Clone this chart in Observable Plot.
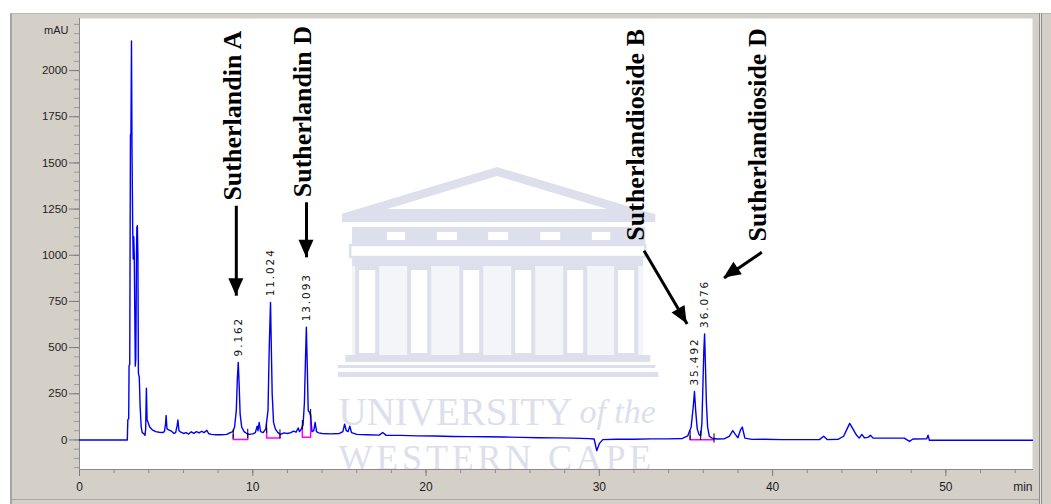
<!DOCTYPE html>
<html>
<head>
<meta charset="utf-8">
<script src="https://cdn.jsdelivr.net/npm/d3@7"></script>
<script src="https://cdn.jsdelivr.net/npm/@observablehq/plot@0.6"></script>
<style>
  html, body { margin: 0; padding: 0; background: #ffffff; }
  #page { position: relative; width: 1051px; height: 504px; overflow: hidden; background: #ffffff; }
  #panel { position: absolute; left: 10px; top: 13px; border-left: 2px solid #a4a4a4; border-top: 1px solid #b8b8b8; background: #d4d0c8; }
  #panel svg { display: block; }
  #rightline { position: absolute; left: 1039px; top: 13px; width: 1px; height: 491px; border-left: 1px solid #8c8c8c; border-right: 1px solid #8c8c8c; background: #e8e6e0; }
  #bottomline { position: absolute; left: 12px; top: 499px; width: 1027px; height: 1px; background: #a8a8a8; }
  g[font-family="DejaVu Sans"] text { letter-spacing: 1.9px; }
  g[font-family="Tinos, 'Liberation Serif', serif"] text { letter-spacing: 3.8px; }
</style>
</head>
<body>
<div id="page">
  <div id="panel"></div>
  <div id="rightline"></div>
  <div id="bottomline"></div>
</div>
<script>
// ---------- Chromatogram trace (retention time in min, absorbance in mAU) ----------
const timeMin = [
  0, 2.76, 2.79, 2.84, 2.86, 2.90, 2.94, 2.97, 3.00, 3.03, 3.07, 3.10, 3.13, 3.16, 3.19, 3.22, 3.25, 3.29, 3.31, 3.34,
  3.37, 3.40, 3.45, 3.50, 3.56, 3.62, 3.70, 3.78, 3.82, 3.86, 3.90, 3.96, 4.05, 4.2, 4.4, 4.6, 4.8, 4.9, 4.97, 5.0,
  5.05, 5.15, 5.3, 5.45, 5.55, 5.64, 5.68, 5.74, 5.85, 6.0, 6.15, 6.3, 6.45, 6.6, 6.75, 6.9, 7.05, 7.2, 7.35, 7.45,
  7.6, 7.9, 8.2, 8.5, 8.7, 8.85, 8.95, 9.05, 9.11, 9.162, 9.21, 9.27, 9.36, 9.5, 9.65, 9.8, 10.0, 10.15, 10.25, 10.3,
  10.37, 10.45, 10.6, 10.75, 10.88, 10.95, 11.024, 11.07, 11.12, 11.2, 11.3, 11.45, 11.6, 11.8, 12.0, 12.2, 12.35, 12.5, 12.62, 12.7,
  12.8, 12.9, 12.98, 13.04, 13.093, 13.14, 13.2, 13.27, 13.33, 13.42, 13.52, 13.6, 13.68, 13.8, 14.0, 14.5, 15.0, 15.2, 15.3, 15.4,
  15.5, 15.6, 15.7, 16.0, 16.6, 17.3, 17.5, 17.7, 18.5, 19.5, 20.5, 21.5, 22.5, 23.5, 24.5, 25.5, 26.5, 27.5, 28.5, 29.4,
  29.7, 29.85, 30.0, 30.2, 31, 32, 33, 34, 34.8, 35.1, 35.3, 35.42, 35.492, 35.56, 35.65, 35.75, 35.85, 35.92, 35.98, 36.03,
  36.076, 36.12, 36.18, 36.25, 36.35, 36.5, 36.8, 37.2, 37.5, 37.7, 37.85, 38.0, 38.15, 38.25, 38.4, 38.8, 39.5, 40.5, 42.7, 42.95,
  43.15, 43.8, 44.1, 44.3, 44.45, 44.6, 44.85, 45.0, 45.15, 45.3, 45.5, 45.65, 45.8, 46.3, 47.6, 47.9, 48.1, 48.9, 48.97, 49.05,
  55
];
const absorbance = [
  0, 0, 110, 115, 400, 410, 1650, 1660, 2160, 1570, 1150, 980, 1100, 1000, 700, 400, 440, 1000, 1150, 1160,
  1000, 360, 340, 180, 70, 40, 35, 25, 60, 280, 110, 95, 70, 55, 45, 42, 40, 45, 90, 132,
  60, 55, 48, 35, 40, 80, 108, 50, 42, 35, 40, 32, 44, 36, 45, 38, 47, 40, 52, 35,
  30, 28, 28, 30, 40, 45, 70, 160, 330, 420, 310, 140, 70, 45, 35, 30, 33, 40, 75, 50,
  95, 45, 40, 60, 160, 500, 745, 500, 250, 95, 60, 40, 30, 38, 35, 40, 48, 42, 65, 45,
  60, 80, 200, 430, 610, 420, 160, 150, 135, 45, 50, 95, 45, 38, 35, 33, 35, 45, 85, 50,
  45, 75, 40, 30, 28, 26, 40, 25, 25, 22, 21, 19, 18, 17, 16, 14, 12, 11, 10, 7,
  5, -58, -20, 2, 4, 4, 6, 6, 8, 22, 70, 180, 262, 160, 60, 30, 22, 90, 300, 480,
  574, 420, 200, 70, 20, 10, 5, 6, 20, 50, 30, 12, 55, 70, 10, 3, 4, 2, 2, 20,
  2, 4, 20, 60, 90, 65, 25, 10, 30, 12, 14, 25, 10, 10, 10, -8, 5, 6, 26, -2,
  -2
];

// ---------- Integrated peaks ----------
const peakTimes = [9.162, 11.024, 13.093, 35.492, 36.076];
const peakHeights = [420, 745, 610, 262, 574];
const peakLabels = ["9.162", "11.024", "13.093", "35.492", "36.076"];

// integration baselines (pink) and start/end markers (black)
const intStart = [8.87, 10.80, 12.86, 35.24];
const intEnd = [9.71, 11.57, 13.34, 36.62];
const intStartTrace = [30, 60, 80, 22];
const intEndTrace = [33, 30, 140, 8];
const intBase = [3, 10, 14, 1];
const markTimes = [8.87, 9.71, 10.80, 11.57, 12.86, 13.34, 35.24, 35.85, 36.62];
const markValues = [30, 33, 60, 30, 80, 140, 22, 22, 8];

// ---------- Compound annotations ----------
const compoundNames = ["Sutherlandin A", "Sutherlandin D", "Sutherlandioside B", "Sutherlandioside D"];
const nameTime = [8.86, 12.86, 32.10, 39.13];
const nameBase = [1296, 1314, 1079, 1075];
const arrowTailTime = [9.05, 13.10, 32.58, 39.38];
const arrowTailValue = [1268, 1287, 1025, 1016];
const arrowTipTime = [9.05, 13.10, 35.07, 37.20];
const arrowTipValue = [781, 989, 628, 877];

// ---------- Axes ----------
const yMajorTicks = [0, 250, 500, 750, 1000, 1250, 1500, 1750, 2000];
const yMinorTicks = d3.range(-150, 2251, 50);
const xMajorTicks = [0, 10, 20, 30, 40, 50];
const xMinorTicks = d3.range(0, 55, 2);
const yUnitLabel = "mAU";
const xUnitLabel = "min";

// ---------- Faint watermark (University of the Western Cape logo), in data units ----------
const wmLine1 = "UNIVERSITY";
const wmLine1b = "of the";
const wmLine2 = "WESTERN CAPE";
const logoTriLeft = [15.13, 17.78, 19.75, 21.25];
const logoTriApex = [24.13, 24.13, 24.13, 24.13];
const logoTriRight = [33.20, 30.48, 28.52, 26.98];
const logoTriBase = [1221, 1248, 1248, 1259];
const logoTriTop = [1475, 1427, 1373, 1340];
const logoTriTone = ["dark", "light", "dark", "light"];
const logoBandX1 = [15.18, 15.76, 15.76, 15.36, 14.95, 14.95];
const logoBandX2 = [33.26, 32.68, 32.56, 32.97, 33.26, 33.43];
const logoBandY1 = [1177, 1058, 939, 419, 387, 338];
const logoBandY2 = [1221, 1150, 982, 457, 403, 366];
const logoMetopeX1 = [17.77, 20.65, 23.61, 26.62, 29.60];
const logoMetopeX2 = [18.82, 21.81, 24.77, 27.77, 30.66];
const logoMetopeY = [1080, 1123];
const logoColumnX1 = [16.05, 19.05, 22.06, 25.06, 28.06, 31.00];
const logoColumnX2 = [17.21, 20.21, 23.21, 26.21, 29.21, 32.16];
const logoColumnY = [457, 928];
const logoArchitrave = {x1: 15.65, x2: 32.68, y1: 988, y2: 1053};
const logoColor = "#dde0ec";
const logoLight = "#f4f5f9";

// ---------- Build tables ----------
const trace = timeMin.map((t, i) => ({t, v: absorbance[i]}));
const peaks = peakTimes.map((t, i) => ({t, v: peakHeights[i], label: peakLabels[i]}));
const pink = intStart.flatMap((s, i) => [
  {g: i, t: s, v: intStartTrace[i]},
  {g: i, t: s, v: intBase[i]},
  {g: i, t: intEnd[i], v: intBase[i]},
  {g: i, t: intEnd[i], v: intEndTrace[i]}
]);
const marks = markTimes.map((t, i) => ({t, v: markValues[i]}));
const names = compoundNames.map((n, i) => ({n, t: nameTime[i], v: nameBase[i]}));
const arrows = compoundNames.map((n, i) => ({
  t1: arrowTailTime[i], v1: arrowTailValue[i], t2: arrowTipTime[i], v2: arrowTipValue[i]
}));
const tris = logoTriLeft.flatMap((l, i) => [
  {k: i, tone: logoTriTone[i], t: l, lo: logoTriBase[i], hi: logoTriBase[i]},
  {k: i, tone: logoTriTone[i], t: logoTriApex[i], lo: logoTriBase[i], hi: logoTriTop[i]},
  {k: i, tone: logoTriTone[i], t: logoTriRight[i], lo: logoTriBase[i], hi: logoTriBase[i]}
]);
const bands = logoBandX1.map((x1, i) => ({x1, x2: logoBandX2[i], y1: logoBandY1[i], y2: logoBandY2[i]}));
const metopes = logoMetopeX1.map((x1, i) => ({x1, x2: logoMetopeX2[i], y1: logoMetopeY[0], y2: logoMetopeY[1]}));
const columns = logoColumnX1.map((x1, i) => ({x1, x2: logoColumnX2[i], y1: logoColumnY[0], y2: logoColumnY[1]}));

const chart = Plot.plot({
  width: 1039,
  height: 490,
  marginLeft: 67,
  marginRight: 19,
  marginTop: 4,
  marginBottom: 35,
  x: {domain: [0, 55]},
  y: {domain: [-160, 2282]},
  style: {background: "#d4d0c8", fontFamily: "'Liberation Sans', Arial, sans-serif", fontSize: "11px", color: "#1e1e1e", overflow: "visible"},
  marks: [
    Plot.frame({fill: "white", stroke: "none"}),
    // watermark logo
    Plot.rect([{x1: 15.76, x2: 32.56, y1: 457, y2: 939}], {x1: "x1", x2: "x2", y1: "y1", y2: "y2", fill: logoLight}),
    Plot.areaY(tris.filter(d => d.tone === "dark"), {x: "t", y1: "lo", y2: "hi", z: "k", fill: logoColor}),
    Plot.areaY(tris.filter(d => d.tone === "light"), {x: "t", y1: "lo", y2: "hi", z: "k", fill: "white"}),
    Plot.rect(bands, {x1: "x1", x2: "x2", y1: "y1", y2: "y2", fill: logoColor}),
    Plot.rect(metopes, {x1: "x1", x2: "x2", y1: "y1", y2: "y2", fill: "white"}),
    Plot.rect([logoArchitrave], {x1: "x1", x2: "x2", y1: "y1", y2: "y2", fill: "white", stroke: logoColor, strokeWidth: 2.5}),
    Plot.rect(columns, {x1: "x1", x2: "x2", y1: "y1", y2: "y2", fill: "white", stroke: logoColor, strokeWidth: 4}),
    Plot.text([wmLine1], {x: 14.95, y: 150, text: d => d, textAnchor: "start", lineAnchor: "middle", fontFamily: "'Liberation Serif', serif", fontSize: 39, fill: logoColor}),
    Plot.text([wmLine1b], {x: 28.85, y: 150, text: d => d, textAnchor: "start", lineAnchor: "middle", fontFamily: "'Liberation Serif', serif", fontStyle: "italic", fontSize: 34, fill: logoColor}),
    Plot.text([wmLine2], {x: 14.95, y: -98, text: d => d, textAnchor: "start", lineAnchor: "middle", fontFamily: "Tinos, 'Liberation Serif', serif", fontSize: 36, fill: logoColor, clip: "frame"}),
    // axes
    Plot.axisY({ticks: yMinorTicks, tickSize: 5, fill: "none", stroke: "#9a9a9a", label: null}),
    Plot.axisY({ticks: yMajorTicks, tickFormat: d3.format("d"), tickSize: 10, tickPadding: 2, stroke: "#7c7c7c", fill: "#1e1e1e", fontSize: 11.5, label: null}),
    Plot.axisX({ticks: xMinorTicks, tickSize: 4, fill: "none", stroke: "#8c8c8c", label: null}),
    Plot.axisX({ticks: xMajorTicks, tickFormat: d3.format("d"), tickSize: 7, tickPadding: 6, stroke: "#7c7c7c", fill: "#1e1e1e", fontSize: 12, label: null}),
    Plot.frame({anchor: "left", stroke: "#8a8a8a"}),
    Plot.frame({anchor: "bottom", stroke: "#8a8a8a"}),
    Plot.text([{t: 0, v: 2215, s: yUnitLabel}], {x: "t", y: "v", text: "s", textAnchor: "end", dx: -11, fontSize: 11, fill: "#1e1e1e"}),
    Plot.text([xUnitLabel], {frameAnchor: "bottom-right", text: d => d, textAnchor: "end", dy: 21, fontSize: 12, fill: "#1e1e1e"}),
    // integration
    Plot.line(pink, {x: "t", y: "v", z: "g", stroke: "#ff00ff", strokeWidth: 1.5}),
    // chromatogram
    Plot.line(trace, {x: "t", y: "v", stroke: "#0000f4", strokeWidth: 1.4}),
    Plot.ruleX(marks, {x: "t", y1: d => d.v - 25, y2: d => d.v + 25, stroke: "#000", strokeWidth: 1}),
    // peak retention-time labels
    Plot.text(peaks, {x: "t", y: "v", text: "label", rotate: -90, textAnchor: "start", lineAnchor: "middle", dy: -6, fontFamily: "DejaVu Sans", fontSize: 10.5, fill: "#111"}),
    // compound names and arrows
    Plot.text(names, {x: "t", y: "v", text: "n", rotate: -90, textAnchor: "start", lineAnchor: "middle", fontFamily: "'Liberation Serif', 'Times New Roman', serif", fontWeight: "bold", fontSize: 26, fill: "#000"}),
    Plot.link(arrows, {x1: "t1", y1: "v1", x2: "t2", y2: "v2", stroke: "#000", strokeWidth: 3})
  ]
});

// filled arrow heads, positioned through the plot's own scales
const sx = chart.scale("x"), sy = chart.scale("y");
const heads = arrows.map(a => {
  const x1 = sx.apply(a.t1), y1 = sy.apply(a.v1), x2 = sx.apply(a.t2), y2 = sy.apply(a.v2);
  const L = Math.hypot(x2 - x1, y2 - y1), ux = (x2 - x1) / L, uy = (y2 - y1) / L;
  const hl = 17, hw = 7.5;
  const bx = x2 - ux * hl, by = y2 - uy * hl;
  return [[x2, y2], [bx - uy * hw, by + ux * hw], [bx + uy * hw, by - ux * hw]];
});
d3.select(chart).append("g")
  .selectAll("polygon").data(heads).join("polygon")
  .attr("points", d => d.map(p => p.join(",")).join(" "))
  .attr("fill", "#000");

document.getElementById("panel").appendChild(chart);
</script>
</body>
</html>
